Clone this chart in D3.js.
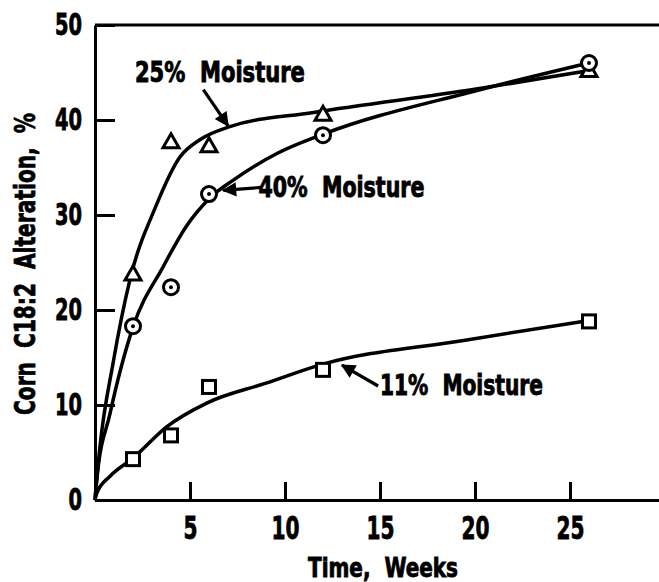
<!DOCTYPE html>
<html><head><meta charset="utf-8">
<script src="https://cdn.jsdelivr.net/npm/d3@7"></script>
<style>
body{margin:0;background:#fff;}
text{font-family:"Liberation Sans Narrow","DejaVu Sans Condensed","DejaVu Sans",sans-serif;font-weight:bold;fill:#000;}
</style></head>
<body><svg id="c" width="659" height="582"></svg>
<script>
// ---- data ----
const xTicks = [5, 10, 15, 20, 25];
const yTicks = [0, 10, 20, 30, 40, 50];
const weeks = [2, 4, 6, 12, 26];
const m25 = [23.8, 37.7, 37.3, 40.6, 45.2];   // triangles
const m40 = [18.3, 22.4, 32.2, 38.4, 46.0];   // circles
const m11 = [4.3, 6.8, 11.9, 13.7, 18.8];     // squares
// fitted curves
const c25x = [0, 0.26, 0.95, 1.84, 3.2, 4.47, 5.5, 7.1, 11.5, 19.9, 26];
const c25y = [0, 5.6, 14.4, 23.2, 30.9, 36.1, 37.9, 39.3, 40.8, 43.2, 45.2];
const c40x = [0, 0.09, 0.79, 2.0, 3.6, 4.8, 6.05, 7.3, 9.6, 12, 19.9, 26];
const c40y = [0, 2.1, 9.1, 18.2, 24.6, 28.8, 31.8, 33.7, 36.5, 38.5, 43.0, 46.0];
const c11x = [0, 0.09, 0.79, 2, 3.77, 5.88, 9.0, 12, 19.4, 26];
const c11y = [0, 0.7, 2.5, 4.4, 7.7, 10.2, 12.3, 14.3, 16.8, 18.9];
const labels = ["25%  Moisture", "40%  Moisture", "11%  Moisture"];
const xTitle = "Time,  Weeks";
const yTitle = "Corn  C18:2  Alteration,  %";

const svg = d3.select("#c");
const x = d3.scaleLinear().domain([0, 30]).range([95, 665]);
const y = d3.scaleLinear().domain([0, 50]).range([500, 25]);

// frame top
svg.append("line").attr("x1", x(0)).attr("x2", x(30)).attr("y1", y(50)).attr("y2", y(50))
  .attr("stroke", "#000").attr("stroke-width", 3);

const yAxis = svg.append("g").attr("transform", `translate(${x(0)},0)`)
  .call(d3.axisLeft(y).tickValues(yTicks).tickSize(-20).tickSizeOuter(0).tickPadding(13));
yAxis.selectAll("text").attr("font-size", 30)
  .attr("textLength", d => String(d).length * 13.5).attr("lengthAdjust", "spacingAndGlyphs");
const xAxis = svg.append("g").attr("transform", `translate(0,${y(0)})`)
  .call(d3.axisBottom(x).tickValues(xTicks).tickSize(-18).tickSizeOuter(0).tickPadding(16));
xAxis.selectAll("text").attr("font-size", 32)
  .attr("textLength", d => String(d).length * 14).attr("lengthAdjust", "spacingAndGlyphs");
svg.selectAll(".domain").attr("stroke-width", 3);
svg.selectAll(".tick line").attr("stroke-width", 3);
svg.selectAll("g text").attr("font-family", null).attr("stroke", "#000").attr("stroke-width", 0.8);

// curves
const line = d3.line().x(d => x(d[0])).y(d => y(d[1])).curve(d3.curveMonotoneX);
[[c25x, c25y], [c40x, c40y], [c11x, c11y]].forEach(([cx, cy]) => {
  svg.append("path").attr("d", line(cx.map((v, i) => [v, cy[i]])))
    .attr("fill", "none").attr("stroke", "#000").attr("stroke-width", 3.5);
});

// markers
const g = svg.append("g").attr("stroke", "#000").attr("stroke-width", 3).attr("fill", "#fff");
weeks.forEach((w, i) => {
  const tx = x(w), ty = y(m25[i]);
  g.append("path").attr("d", `M${tx},${ty - 8}L${tx + 8},${ty + 6}L${tx - 8},${ty + 6}Z`);
  const cx = x(w), cy = y(m40[i]);
  g.append("circle").attr("cx", cx).attr("cy", cy).attr("r", 7.5);
  g.append("circle").attr("cx", cx).attr("cy", cy).attr("r", 2).attr("fill", "#000").attr("stroke", "none");
  g.append("rect").attr("x", x(w) - 6.5).attr("y", y(m11[i]) - 6.5).attr("width", 13).attr("height", 13);
});

// arrows
svg.append("defs").append("marker").attr("id", "ah").attr("viewBox", "0 0 10 10")
  .attr("refX", 9).attr("refY", 5).attr("markerWidth", 5).attr("markerHeight", 4.5)
  .attr("orient", "auto").attr("markerUnits", "strokeWidth")
  .append("path").attr("d", "M0,0L10,5L0,10Z").attr("fill", "#000");
const arrows = [[5.7, 43.2, 7.0, 39.4], [8.75, 32.9, 6.75, 32.6], [14.9, 12.0, 13.0, 14.2]];
arrows.forEach(a => svg.append("line").attr("x1", x(a[0])).attr("y1", y(a[1]))
  .attr("x2", x(a[2])).attr("y2", y(a[3])).attr("stroke", "#000").attr("stroke-width", 3.2)
  .attr("marker-end", "url(#ah)"));

// labels
const labelPos = [[2.1, 44.0, 170], [8.6, 31.9, 166], [15.0, 11.05, 163]];
labels.forEach((t, i) => svg.append("text").attr("x", x(labelPos[i][0])).attr("y", y(labelPos[i][1]))
  .attr("font-size", 28).attr("textLength", labelPos[i][2]).attr("lengthAdjust", "spacingAndGlyphs")
  .attr("stroke", "#000").attr("stroke-width", 0.9).style("white-space", "pre").text(t));

svg.append("text").attr("x", 383).attr("y", 577).attr("text-anchor", "middle").attr("font-size", 26)
  .attr("textLength", 150).attr("lengthAdjust", "spacingAndGlyphs").style("white-space", "pre")
  .attr("stroke", "#000").attr("stroke-width", 0.8).text(xTitle);
svg.append("text").attr("transform", "translate(35,264) rotate(-90)").attr("text-anchor", "middle")
  .attr("font-size", 28).attr("textLength", 302).attr("lengthAdjust", "spacingAndGlyphs").style("white-space", "pre")
  .attr("stroke", "#000").attr("stroke-width", 0.8).text(yTitle);
</script></body></html>
